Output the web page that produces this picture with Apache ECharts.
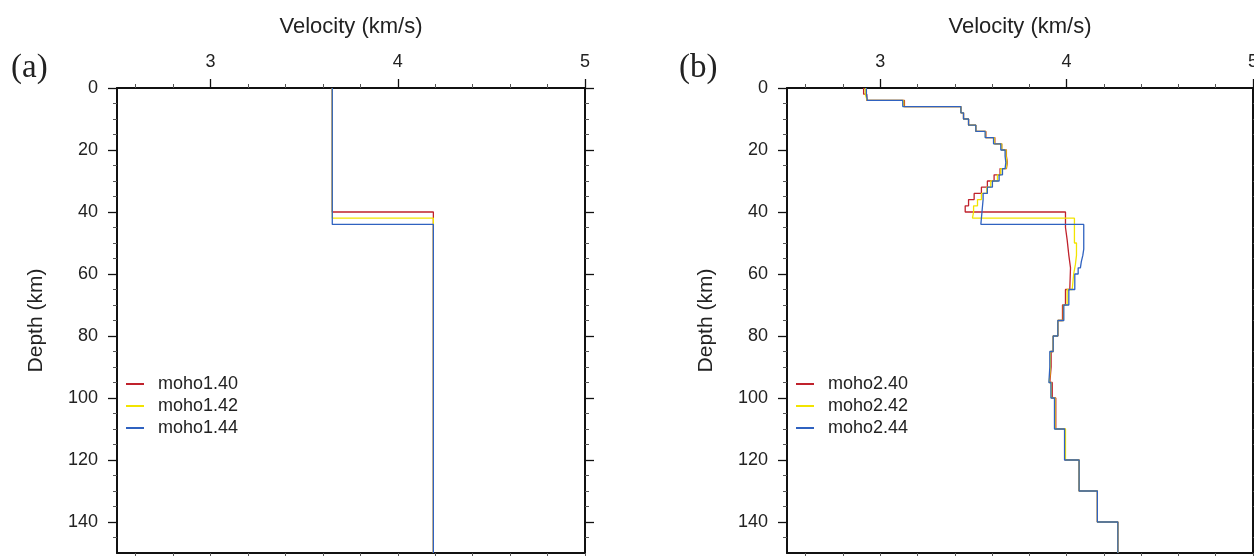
<!DOCTYPE html>
<html><head><meta charset="utf-8">
<script src="https://cdn.jsdelivr.net/npm/echarts@6/dist/echarts.min.js"></script>
<style>html,body{margin:0;padding:0;background:#fff}#c{width:1254px;height:556px}</style>
</head><body><div id="c"></div>
<script>
// ---------- axis ticks ----------
const DEPTH_MAX = 150;
const velMajor = [3, 4, 5];
const velMinor = [2.6, 2.8, 3.2, 3.4, 3.6, 3.8, 4.2, 4.4, 4.6, 4.8];
const velBottom = [2.6, 2.8, 3.0, 3.2, 3.4, 3.6, 3.8, 4.0, 4.2, 4.4, 4.6, 4.8, 5.0];
const depthMajor = [0, 20, 40, 60, 80, 100, 120, 140];
const depthMinor = [5, 10, 15, 25, 30, 35, 45, 50, 55, 65, 70, 75, 85, 90, 95, 105, 110, 115, 125, 130, 135, 145];

// ---------- series names ----------
const aNames = ['moho1.40', 'moho1.42', 'moho1.44'];
const bNames = ['moho2.40', 'moho2.42', 'moho2.44'];
const lineColors = ['#c0222c', '#f2e400', '#2f62c0'];

// ---------- panel (a): layer top depths (km) and velocities (km/s) ----------
const a40Tops = [0, 40];
const a40Vs = [3.65, 4.19];
const a42Tops = [0, 42];
const a42Vs = [3.65, 4.19];
const a44Tops = [0, 44];
const a44Vs = [3.65, 4.19];

// ---------- panel (b) ----------
const b40Tops = [0, 2, 4, 6, 8, 10, 12, 14, 16, 18, 20, 22, 24, 26, 28, 30, 32, 34, 36, 38,
  40, 45, 49, 54, 58, 65, 70, 75, 80, 85, 90, 95, 100, 110, 120, 130, 140];
const b40Vs = [2.911, 2.928, 3.130, 3.433, 3.447, 3.474, 3.513, 3.567, 3.615, 3.652, 3.677, 3.682, 3.677, 3.643, 3.611, 3.575, 3.543, 3.504, 3.474, 3.456,
  3.994, 4.003, 4.012, 4.021, 4.017, 3.994, 3.978, 3.953, 3.928, 3.917, 3.910, 3.923, 3.942, 3.992, 4.067, 4.165, 4.275];

const b42Tops = [0, 2, 4, 6, 8, 10, 12, 14, 16, 18, 20, 22, 24, 26, 28, 30, 32, 34, 36, 38,
  40, 42, 50, 54, 57, 60, 65, 70, 75, 80, 85, 90, 95, 100, 110, 120, 130, 140];
const b42Vs = [2.920, 2.930, 3.126, 3.433, 3.447, 3.474, 3.513, 3.565, 3.612, 3.652, 3.675, 3.680, 3.675, 3.647, 3.629, 3.593, 3.572, 3.543, 3.522, 3.501,
  3.495, 4.042, 4.053, 4.047, 4.038, 4.030, 4.003, 3.983, 3.953, 3.928, 3.913, 3.907, 3.918, 3.938, 3.994, 4.067, 4.165, 4.275];

const b44Tops = [0, 2, 4, 6, 8, 10, 12, 14, 16, 18, 20, 22, 24, 26, 28, 30, 32, 34, 36, 38,
  44, 52, 54, 56, 58, 60, 65, 70, 75, 80, 85, 90, 95, 100, 110, 120, 130, 140];
const b44Vs = [2.926, 2.931, 3.121, 3.433, 3.447, 3.474, 3.513, 3.563, 3.608, 3.647, 3.670, 3.674, 3.670, 3.656, 3.638, 3.602, 3.575, 3.552, 3.549, 3.540,
  4.092, 4.087, 4.079, 4.074, 4.062, 4.044, 4.012, 3.985, 3.953, 3.928, 3.910, 3.905, 3.916, 3.935, 3.989, 4.067, 4.165, 4.275];

// ---------- build ----------
const FONT = '"Liberation Sans", Arial, Helvetica, sans-serif';
const TXT = '#222';

function stepPoints(tops, vs) {
  const pts = [];
  for (let i = 0; i < tops.length; i++) {
    const bot = i + 1 < tops.length ? tops[i + 1] : DEPTH_MAX;
    pts.push([vs[i], tops[i]], [vs[i], bot]);
  }
  return pts;
}

const gridLefts = [117, 787];
const gridWidths = [468, 466];
const grids = gridLefts.map((l, i) => ({ left: l, top: 88, width: gridWidths[i], height: 465, containLabel: false, outerBoundsMode: 'none' }));

const xAxes = [], yAxes = [];
[0, 1].forEach(p => {
  const baseX = { gridIndex: p, type: 'value', min: 2.5, max: 5, splitLine: { show: false } };
  xAxes.push(Object.assign({}, baseX, {
    position: 'top',
    axisLine: { show: true, onZero: false, lineStyle: { color: '#111', width: 2 } },
    axisTick: { show: true, length: 9, customValues: velMajor, lineStyle: { color: '#111', width: 1.3 } },
    axisLabel: { show: true, customValues: velMajor, margin: 17, fontSize: 18, color: TXT, fontFamily: FONT },
    name: 'Velocity (km/s)', nameLocation: 'middle', nameGap: 50,
    nameTextStyle: { fontSize: 22, color: TXT, fontFamily: FONT }
  }));
  xAxes.push(Object.assign({}, baseX, {
    position: 'top',
    axisLine: { show: false, onZero: false },
    axisTick: { show: true, length: 4, customValues: velMinor, lineStyle: { color: '#555', width: 1 } },
    axisLabel: { show: false }
  }));
  xAxes.push(Object.assign({}, baseX, {
    position: 'bottom',
    axisLine: { show: true, onZero: false, lineStyle: { color: '#111', width: 2 } },
    axisTick: { show: true, length: 4, customValues: velBottom, lineStyle: { color: '#555', width: 1 } },
    axisLabel: { show: false }
  }));

  const baseY = { gridIndex: p, type: 'value', inverse: true, min: 0, max: DEPTH_MAX, splitLine: { show: false } };
  yAxes.push(Object.assign({}, baseY, {
    position: 'left',
    axisLine: { show: true, onZero: false, lineStyle: { color: '#111', width: 2 } },
    axisTick: { show: true, length: 9, customValues: depthMajor, lineStyle: { color: '#111', width: 1.3 } },
    axisLabel: { show: true, customValues: depthMajor, margin: 19, fontSize: 18, color: TXT, fontFamily: FONT },
    name: 'Depth (km)', nameLocation: 'middle', nameGap: 70,
    nameTextStyle: { fontSize: 21, color: TXT, fontFamily: FONT }
  }));
  yAxes.push(Object.assign({}, baseY, {
    position: 'left',
    axisLine: { show: false, onZero: false },
    axisTick: { show: true, length: 4, customValues: depthMinor, lineStyle: { color: '#555', width: 1 } },
    axisLabel: { show: false }
  }));
  yAxes.push(Object.assign({}, baseY, {
    position: 'right',
    axisLine: { show: true, onZero: false, lineStyle: { color: '#111', width: 2 } },
    axisTick: { show: true, length: 9, customValues: depthMajor, lineStyle: { color: '#111', width: 1.3 } },
    axisLabel: { show: false }
  }));
  yAxes.push(Object.assign({}, baseY, {
    position: 'right',
    axisLine: { show: false, onZero: false },
    axisTick: { show: true, length: 4, customValues: depthMinor, lineStyle: { color: '#555', width: 1 } },
    axisLabel: { show: false }
  }));
});

const panelData = [
  [[a40Tops, a40Vs], [a42Tops, a42Vs], [a44Tops, a44Vs]],
  [[b40Tops, b40Vs], [b42Tops, b42Vs], [b44Tops, b44Vs]]
];
const panelNames = [aNames, bNames];

const series = [];
[0, 1].forEach(p => {
  panelData[p].forEach((m, i) => {
    series.push({
      name: panelNames[p][i], type: 'line',
      xAxisIndex: p * 3, yAxisIndex: p * 4,
      data: stepPoints(m[0], m[1]),
      symbol: 'none', showSymbol: false, clip: true,
      lineStyle: { color: lineColors[i], width: 1.3 },
      itemStyle: { color: lineColors[i] },
      animation: false, silent: true
    });
  });
});

const legendIcon = 'path://M0,0H18V2H0Z M27,0L27,2';
const legends = [0, 1].map(p => ({
  left: gridLefts[p] + 9, top: 375, orient: 'vertical',
  data: panelNames[p], icon: legendIcon,
  itemWidth: 27, itemHeight: 2, itemGap: 4, padding: 0,
  itemStyle: { borderWidth: 0 },
  textStyle: { fontSize: 18, color: TXT, fontFamily: FONT },
  selectedMode: false
}));

const serif = '"Liberation Serif", "Times New Roman", serif';
const titles = [
  { text: '(a)', left: 11, top: 52, padding: 0, textStyle: { fontFamily: serif, fontSize: 33, fontWeight: 'normal', color: TXT } },
  { text: '(b)', left: 679, top: 52, padding: 0, textStyle: { fontFamily: serif, fontSize: 33, fontWeight: 'normal', color: TXT } }
];

const chart = echarts.init(document.getElementById('c'), null, { renderer: 'canvas' });
chart.setOption({
  backgroundColor: '#fff',
  animation: false,
  title: titles,
  legend: legends,
  grid: grids,
  xAxis: xAxes,
  yAxis: yAxes,
  series: series
});
</script>
</body></html>
